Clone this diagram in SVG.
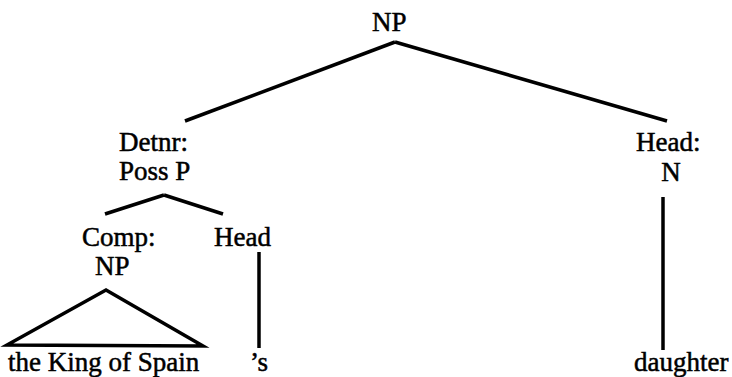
<svg xmlns="http://www.w3.org/2000/svg" width="732" height="377" viewBox="0 0 732 377">
<style>
text{font-family:"Liberation Serif","Times New Roman",serif;font-size:27px;fill:#000;stroke:#000;stroke-width:0.5}
.c line,.c polygon{stroke:#000;stroke-width:3.5;fill:none;stroke-linecap:butt;stroke-linejoin:miter}
</style>
<rect width="732" height="377" fill="#fff"/>
<g class="c" id="connectors">
<line x1="395" y1="42" x2="185" y2="121"/>
<line x1="395" y1="42" x2="667" y2="121"/>
<line x1="164" y1="195" x2="105" y2="214"/>
<line x1="164" y1="195" x2="223" y2="214"/>
<polygon points="106,290 7,345 203,346"/>
<line x1="259" y1="252" x2="259" y2="348"/>
<line x1="663" y1="197" x2="663" y2="350"/>
</g>
<g id="np-root"><text x="372" y="31">NP</text></g>
<g id="detnr"><text x="119" y="151">Detnr:</text><text x="119" y="180">Poss P</text></g>
<g id="head-n"><text x="636" y="151">Head:</text><text x="671" y="181" text-anchor="middle">N</text></g>
<g id="comp"><text x="82" y="246">Comp:</text><text x="95" y="275">NP</text></g>
<g id="head-s"><text x="214" y="246">Head</text></g>
<g id="king"><text x="8" y="371">the King of Spain</text></g>
<g id="poss-s"><text x="250" y="371">’s</text></g>
<g id="daughter"><text x="634" y="371">daughter</text></g>
</svg>
